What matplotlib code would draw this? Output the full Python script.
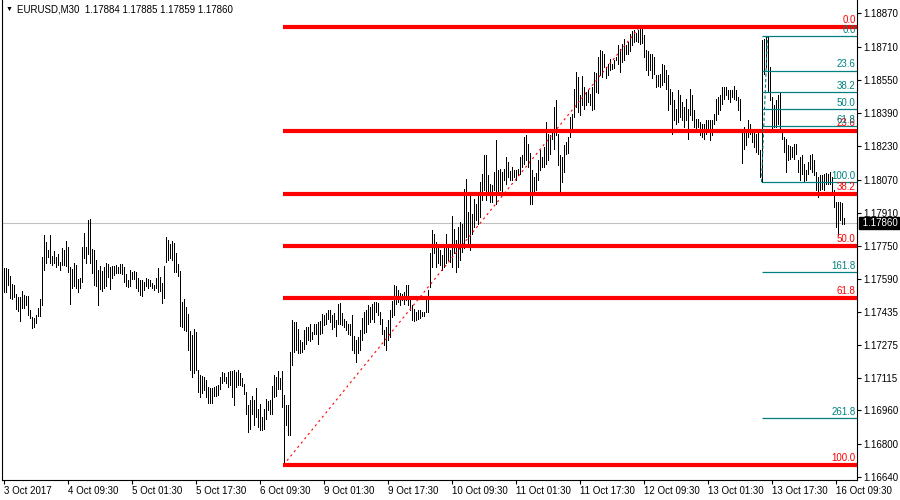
import numpy as np
import matplotlib
matplotlib.use("Agg")
import matplotlib.pyplot as plt
import matplotlib.transforms as mtransforms

# EURUSD M30 bars, 3 Oct 17:30 .. 16 Oct 11:30 (high / low per bar)
high_1 = [1.17643, 1.17643, 1.17639, 1.17606, 1.17568, 1.17563, 1.17519, 1.17507, 1.17507, 1.17535,
          1.17515, 1.17510, 1.17510, 1.17443, 1.17411, 1.17403, 1.17419, 1.17455, 1.17495, 1.17696,
          1.17803, 1.17771, 1.17734, 1.17803, 1.17702, 1.17726, 1.17699, 1.17712, 1.17672, 1.17739,
          1.17734, 1.17774, 1.17744, 1.17651, 1.17639, 1.17667, 1.17659, 1.17592, 1.17598, 1.17747,
          1.17814, 1.17747, 1.17875, 1.17883, 1.17736, 1.17734, 1.17683, 1.17635, 1.17654, 1.17631,
          1.17651, 1.17667, 1.17663, 1.17651, 1.17654, 1.17654, 1.17659, 1.17651, 1.17663, 1.17663,
          1.17651, 1.17615, 1.17587, 1.17635, 1.17627, 1.17631, 1.17627, 1.17595, 1.17587, 1.17587,
          1.17579, 1.17595, 1.17592, 1.17587, 1.17571, 1.17563, 1.17599, 1.17643, 1.17603, 1.17574,
          1.17654, 1.17792, 1.17779, 1.17760, 1.17776, 1.17766, 1.17715, 1.17663, 1.17631, 1.17482,
          1.17495, 1.17458, 1.17426, 1.17343, 1.17322, 1.17354, 1.17338, 1.17157, 1.17130, 1.17125,
          1.17122, 1.17106, 1.17071, 1.17066, 1.17066, 1.17074]
low_1 = [1.17531, 1.17531, 1.17562, 1.17499, 1.17494, 1.17507, 1.17447, 1.17439, 1.17391, 1.17455,
         1.17455, 1.17467, 1.17419, 1.17403, 1.17355, 1.17359, 1.17382, 1.17414, 1.17415, 1.17467,
         1.17635, 1.17667, 1.17696, 1.17670, 1.17659, 1.17667, 1.17651, 1.17659, 1.17635, 1.17659,
         1.17659, 1.17654, 1.17627, 1.17471, 1.17551, 1.17558, 1.17551, 1.17531, 1.17547, 1.17579,
         1.17691, 1.17670, 1.17712, 1.17667, 1.17622, 1.17562, 1.17558, 1.17467, 1.17542, 1.17535,
         1.17551, 1.17558, 1.17603, 1.17542, 1.17599, 1.17611, 1.17619, 1.17619, 1.17622, 1.17615,
         1.17579, 1.17558, 1.17554, 1.17558, 1.17594, 1.17590, 1.17551, 1.17535, 1.17515, 1.17510,
         1.17538, 1.17558, 1.17551, 1.17558, 1.17547, 1.17538, 1.17551, 1.17531, 1.17535, 1.17477,
         1.17503, 1.17675, 1.17683, 1.17691, 1.17683, 1.17627, 1.17627, 1.17606, 1.17365, 1.17362,
         1.17349, 1.17343, 1.17250, 1.17154, 1.17122, 1.17138, 1.17154, 1.17050, 1.17026, 1.17042,
         1.17058, 1.17026, 1.16997, 1.16994, 1.16994, 1.17029]

high_2 = [1.17077, 1.17082, 1.17122, 1.17146, 1.17141, 1.17122, 1.17146, 1.17150, 1.17150, 1.17154,
          1.17146, 1.17157, 1.17138, 1.17114, 1.17086, 1.17050, 1.16985, 1.17010, 1.17029, 1.17010,
          1.17070, 1.16969, 1.16993, 1.16929, 1.16969, 1.17013, 1.17006, 1.17010, 1.17077, 1.17130,
          1.17122, 1.17150, 1.17114, 1.17150, 1.17033, 1.16985, 1.16985, 1.17242, 1.17394, 1.17386,
          1.17386, 1.17354, 1.17298, 1.17290, 1.17346, 1.17359, 1.17362, 1.17378, 1.17338, 1.17375,
          1.17378, 1.17386, 1.17391, 1.17423, 1.17418, 1.17429, 1.17442, 1.17445, 1.17418, 1.17429,
          1.17394, 1.17474, 1.17477, 1.17429, 1.17402, 1.17391, 1.17378, 1.17375, 1.17418, 1.17317,
          1.17301, 1.17314, 1.17346, 1.17407, 1.17434, 1.17442, 1.17466, 1.17458, 1.17474, 1.17482,
          1.17482, 1.17477, 1.17434, 1.17402, 1.17346, 1.17362, 1.17394, 1.17442, 1.17487, 1.17562,
          1.17557, 1.17541, 1.17525, 1.17522, 1.17530, 1.17562, 1.17562, 1.17506, 1.17466, 1.17450,
          1.17434, 1.17442, 1.17442, 1.17434, 1.17434, 1.17498, 1.17538]
low_2 = [1.17029, 1.17033, 1.17065, 1.17090, 1.17102, 1.17093, 1.17073, 1.17082, 1.17025, 1.16985,
         1.17073, 1.17082, 1.17082, 1.17077, 1.17041, 1.16945, 1.16857, 1.16873, 1.16945, 1.16889,
         1.16929, 1.16881, 1.16868, 1.16868, 1.16873, 1.16921, 1.16961, 1.16945, 1.16945, 1.17025,
         1.17029, 1.17065, 1.17065, 1.16977, 1.16698, 1.16889, 1.16841, 1.16841, 1.17178, 1.17242,
         1.17250, 1.17234, 1.17234, 1.17242, 1.17258, 1.17282, 1.17298, 1.17295, 1.17306, 1.17330,
         1.17330, 1.17282, 1.17330, 1.17333, 1.17370, 1.17378, 1.17402, 1.17386, 1.17354, 1.17362,
         1.17317, 1.17378, 1.17378, 1.17370, 1.17362, 1.17349, 1.17330, 1.17322, 1.17250, 1.17234,
         1.17194, 1.17234, 1.17253, 1.17298, 1.17333, 1.17338, 1.17378, 1.17386, 1.17402, 1.17386,
         1.17434, 1.17418, 1.17378, 1.17330, 1.17274, 1.17250, 1.17301, 1.17314, 1.17410, 1.17418,
         1.17474, 1.17482, 1.17466, 1.17490, 1.17474, 1.17490, 1.17466, 1.17442, 1.17394, 1.17391,
         1.17394, 1.17402, 1.17407, 1.17413, 1.17413, 1.17434, 1.17434]

high_3 = [1.17715, 1.17827, 1.17811, 1.17771, 1.17747, 1.17731, 1.17707, 1.17747, 1.17811, 1.17747,
          1.17731, 1.17894, 1.17835, 1.17779, 1.17843, 1.17867, 1.17859, 1.18027, 1.18075, 1.17915,
          1.18003, 1.17907, 1.17979, 1.17955, 1.18003, 1.18059, 1.18099, 1.18187, 1.18187, 1.18091,
          1.18051, 1.18043, 1.18107, 1.18259, 1.18115, 1.18123, 1.18107, 1.18123, 1.18179, 1.18155,
          1.18112, 1.18131, 1.18118, 1.18118, 1.18123, 1.18179, 1.18187, 1.18275, 1.18283, 1.18243,
          1.18198, 1.18115, 1.18083, 1.18102, 1.18163, 1.18211, 1.18179, 1.18227, 1.18347, 1.18291,
          1.18283, 1.18294, 1.18419, 1.18455, 1.18291, 1.18187, 1.18179, 1.18235, 1.18251, 1.18275,
          1.18371, 1.18387, 1.18508, 1.18588, 1.18564, 1.18476, 1.18567, 1.18516, 1.18492, 1.18500,
          1.18484, 1.18516, 1.18588, 1.18583, 1.18660, 1.18695, 1.18689, 1.18676, 1.18612, 1.18628,
          1.18652, 1.18628, 1.18647, 1.18660, 1.18716, 1.18700, 1.18721, 1.18748, 1.18716, 1.18732,
          1.18772, 1.18785, 1.18788, 1.18775, 1.18791, 1.18803, 1.18793]
low_3 = [1.17554, 1.17651, 1.17715, 1.17651, 1.17667, 1.17659, 1.17634, 1.17651, 1.17667, 1.17683,
         1.17675, 1.17651, 1.17715, 1.17626, 1.17651, 1.17683, 1.17723, 1.17739, 1.17795, 1.17755,
         1.17731, 1.17811, 1.17843, 1.17875, 1.17859, 1.17891, 1.17971, 1.18019, 1.17971, 1.18003,
         1.17963, 1.17963, 1.18019, 1.17955, 1.18003, 1.18019, 1.18003, 1.18067, 1.18051, 1.18083,
         1.18067, 1.18067, 1.18083, 1.18067, 1.18091, 1.18099, 1.18131, 1.18147, 1.18163, 1.18131,
         1.17955, 1.17955, 1.18003, 1.18019, 1.18070, 1.18115, 1.18131, 1.18131, 1.18147, 1.18163,
         1.18195, 1.18267, 1.18219, 1.18283, 1.18139, 1.18016, 1.18059, 1.18107, 1.18195, 1.18198,
         1.18275, 1.18307, 1.18371, 1.18419, 1.18395, 1.18379, 1.18428, 1.18411, 1.18428, 1.18444,
         1.18428, 1.18403, 1.18411, 1.18492, 1.18487, 1.18572, 1.18564, 1.18612, 1.18560, 1.18572,
         1.18596, 1.18604, 1.18609, 1.18644, 1.18628, 1.18588, 1.18636, 1.18644, 1.18676, 1.18676,
         1.18689, 1.18716, 1.18732, 1.18737, 1.18732, 1.18724, 1.18727]

high_4 = [1.18764, 1.18692, 1.18689, 1.18676, 1.18676, 1.18660, 1.18572, 1.18572, 1.18580, 1.18628,
          1.18620, 1.18596, 1.18572, 1.18508, 1.18492, 1.18452, 1.18412, 1.18500, 1.18476, 1.18444,
          1.18419, 1.18460, 1.18412, 1.18508, 1.18476, 1.18403, 1.18363, 1.18363, 1.18347, 1.18339,
          1.18336, 1.18355, 1.18355, 1.18355, 1.18355, 1.18387, 1.18460, 1.18468, 1.18476, 1.18516,
          1.18516, 1.18516, 1.18500, 1.18503, 1.18500, 1.18519, 1.18500, 1.18468, 1.18460, 1.18315,
          1.18323, 1.18315, 1.18355, 1.18339, 1.18307, 1.18315, 1.18291, 1.18295, 1.18211, 1.18740,
          1.18748, 1.18756, 1.18759, 1.18612, 1.18468, 1.18427, 1.18452, 1.18476, 1.18492, 1.18307,
          1.18275, 1.18267, 1.18235, 1.18230, 1.18227, 1.18243, 1.18243, 1.18163, 1.18179, 1.18187,
          1.18147, 1.18115, 1.18155, 1.18187, 1.18195, 1.18163, 1.18107, 1.18083, 1.18091, 1.18091,
          1.18096, 1.18102, 1.18099, 1.18107, 1.18083, 1.18019, 1.17963, 1.17963, 1.17963, 1.17958,
          1.17885]
low_4 = [1.18660, 1.18596, 1.18572, 1.18596, 1.18560, 1.18580, 1.18516, 1.18519, 1.18516, 1.18524,
         1.18540, 1.18508, 1.18403, 1.18435, 1.18291, 1.18355, 1.18339, 1.18347, 1.18371, 1.18355,
         1.18323, 1.18355, 1.18267, 1.18379, 1.18355, 1.18323, 1.18307, 1.18323, 1.18283, 1.18275,
         1.18267, 1.18291, 1.18307, 1.18259, 1.18283, 1.18339, 1.18355, 1.18387, 1.18403, 1.18435,
         1.18460, 1.18476, 1.18460, 1.18444, 1.18468, 1.18460, 1.18452, 1.18403, 1.18355, 1.18150,
         1.18219, 1.18235, 1.18275, 1.18291, 1.18251, 1.18227, 1.18203, 1.18195, 1.18083, 1.18058,
         1.18580, 1.18612, 1.18492, 1.18452, 1.18315, 1.18323, 1.18323, 1.18339, 1.18315, 1.18267,
         1.18203, 1.18107, 1.18163, 1.18171, 1.18179, 1.18171, 1.18195, 1.18107, 1.18067, 1.18099,
         1.18059, 1.18067, 1.18099, 1.18123, 1.18107, 1.18091, 1.18019, 1.17987, 1.18019, 1.18027,
         1.18019, 1.18051, 1.18051, 1.18051, 1.18006, 1.17939, 1.17843, 1.17806, 1.17875, 1.17856,
         1.17859]

last_ohlc = ["1.17884", "1.17885", "1.17859", "1.17860"]
last_price = 1.17860

x_labels = ["3 Oct 2017", "4 Oct 09:30", "5 Oct 01:30", "5 Oct 17:30", "6 Oct 09:30",
            "9 Oct 01:30", "9 Oct 17:30", "10 Oct 09:30", "11 Oct 01:30", "11 Oct 17:30",
            "12 Oct 09:30", "13 Oct 01:30", "13 Oct 17:30", "16 Oct 09:30"]
y_ticks = [1.18870, 1.18710, 1.18550, 1.18390, 1.18230, 1.18070, 1.17910, 1.17750,
           1.17590, 1.17435, 1.17275, 1.17115, 1.16960, 1.16800, 1.16640]

# fibonacci retracements: (bar, price) of the low and the high
fib_big_low = (140, 1.16698)
fib_big_high = (318, 1.18803)
fib_big_levels = [0.0, 23.6, 38.2, 50.0, 61.8, 100.0]
fib_small_low = (379, 1.18058)
fib_small_high = (382, 1.18759)
fib_small_levels = [0.0, 23.6, 38.2, 50.0, 61.8, 100.0, 161.8, 261.8]

FONT = ['Liberation Sans', 'DejaVu Sans']
FS = 7
RED = '#ff0000'
TEAL = '#008080'


def fib(ax, low, high, levels, color, lw, start, line_style):
    span = high[1] - low[1]
    for lvl in levels:
        price = high[1] - span * lvl / 100.0
        ax.plot([start, 1000], [price, price], color=color, lw=lw,
                solid_capstyle='butt', zorder=4)
        ax.annotate(f"{lvl:.1f}", xy=(1.0, price),
                    xycoords=('axes fraction', 'data'),
                    xytext=(-1, 1.5 if lw > 1 else 1), textcoords='offset points',
                    ha='right', va='bottom', color=color, fontsize=FS,
                    family=FONT, zorder=6)
    ax.plot([low[0], high[0]], [low[1], high[1]], color=color, lw=0.8,
            linestyle=line_style, zorder=4)


def chart():
    highs = np.array(high_1 + high_2 + high_3 + high_4)
    lows = np.array(low_1 + low_2 + low_3 + low_4)
    bars = np.arange(len(highs))

    fig = plt.figure(figsize=(9, 5), dpi=100)
    ax = fig.add_axes([2 / 900, 20 / 500, 855 / 900, 480 / 500])

    ax.axhline(last_price, color='#c0c0c0', lw=0.8, zorder=1)
    ax.vlines(bars, lows, highs, colors='black', linewidth=0.6,
              antialiased=False, zorder=2)

    fib(ax, fib_big_low, fib_big_high, fib_big_levels, RED, 3.0,
        fib_big_low[0] - 0.5, (0, (2, 3)))
    fib(ax, fib_small_low, fib_small_high, fib_small_levels, TEAL, 0.9,
        fib_small_low[0], (0, (3, 2)))

    ax.set_xlim(-0.75, 426.75)
    ax.set_ylim(1.166256, 1.189340)

    ax.yaxis.tick_right()
    ax.set_yticks(y_ticks)
    ax.set_yticklabels([f"{v:.5f}" for v in y_ticks], family=FONT, fontsize=FS)
    ax.set_xticks(np.arange(0, len(highs), 32)[:len(x_labels)])
    ax.set_xticklabels(x_labels, family=FONT, fontsize=FS, ha='left')
    ax.tick_params(axis='both', direction='out', length=3, width=0.8,
                   pad=1.5, colors='black')
    ax.spines['top'].set_visible(False)
    for side in ['left', 'right', 'bottom']:
        ax.spines[side].set_linewidth(0.8)

    # current price box on the price scale
    trans = mtransforms.blended_transform_factory(ax.transAxes, ax.transData)
    ax.text(1.004, last_price, " 1.17860    ", transform=trans, color='white',
            fontsize=FS, family=FONT, va='center', ha='left', clip_on=False,
            bbox=dict(facecolor='black', edgecolor='black', pad=0.8))

    # chart header
    fig.text(6 / 900, 1 - 9 / 500, "\u25bc", fontsize=5, family=FONT,
             va='center', ha='left')
    fig.text(17 / 900, 1 - 10 / 500,
             "EURUSD,M30  " + " ".join(last_ohlc), fontsize=FS, family=FONT,
             va='center', ha='left',
             bbox=dict(facecolor='white', edgecolor='none', pad=1))

    fig.savefig("out.png", dpi=100)


if __name__ == '__main__':
    chart()
